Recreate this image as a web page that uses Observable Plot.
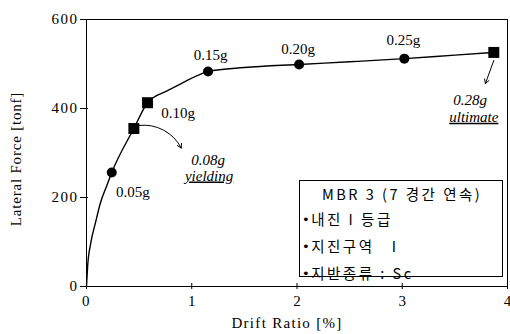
<!DOCTYPE html>
<html><head><meta charset="utf-8">
<script src="https://cdn.jsdelivr.net/npm/d3@7"></script>
<script src="https://cdn.jsdelivr.net/npm/@observablehq/plot@0.6"></script>
<style>
body{margin:0;background:#fff;}
#wrap{position:relative;width:510px;height:334px;}
#legend{position:absolute;left:299px;top:180px;width:204px;height:97px;border:1px solid #000;background:#fff;box-sizing:border-box;
font-family:"Noto Sans CJK KR",sans-serif;font-size:14.5px;line-height:25px;color:#000;padding-top:0px;letter-spacing:2.5px;}
#legend div{white-space:pre;padding-left:2px;}
#legend div:first-child{padding-left:22px;}
#legend .b{font-family:"DejaVu Sans",sans-serif;font-size:13px;letter-spacing:1.5px;position:relative;top:-1px;}
</style>
</head><body><div id="wrap"></div>
<script>
// capacity curve (drift ratio %, lateral force tonf)
const curveDrift = [0, 0.01, 0.04, 0.086, 0.13, 0.2, 0.24, 0.45, 0.58, 0.77, 0.9, 1.155, 1.5, 2.02, 2.5, 3.02, 3.5, 3.87];
const curveForce = [0, 43, 97, 144, 186, 231, 256, 355, 413, 440, 456, 483, 492, 499, 505, 512, 520, 526];
// marked PGA points
const ptLabels = ["0.05g", "0.08g", "0.10g", "0.15g", "0.20g", "0.25g", "0.28g"];
const ptDrift  = [0.24, 0.45, 0.58, 1.155, 2.02, 3.02, 3.87];
const ptForce  = [256, 355, 413, 483, 499, 512, 526];
const ptShape  = ["circle", "square", "square", "circle", "circle", "circle", "square"];
// label positions (left edge)
const lblText  = ["0.05g", "0.10g", "0.15g", "0.20g", "0.25g"];
const lblX     = [0.28, 0.71, 1.02, 1.85, 2.85];
const lblY     = [213, 389, 519, 533, 553];
const italText = ["0.08g", "0.28g"];
const italX    = [1.155, 3.645];
const italY    = [283, 418];
const underText= ["yielding", "ultimate"];
const underX   = [1.165, 3.68];
const underY   = [249, 381];
const xTicks = [0, 1, 2, 3, 4];
const yTicks = [0, 200, 400, 600];
const legendTitle = "MBR 3 (7 경간 연속)";
const legendItems = ["내진 I 등급", "지진구역   I", "지반종류 : Sc"];

const curve = curveDrift.map((d, i) => ({x: d, y: curveForce[i]}));
const pts = ptDrift.map((d, i) => ({x: d, y: ptForce[i], s: ptShape[i], l: ptLabels[i]}));
const lbls = lblText.map((t, i) => ({t, x: lblX[i], y: lblY[i]}));
const ital = italText.map((t, i) => ({t, x: italX[i], y: italY[i]}));
const under = underText.map((t, i) => ({t, x: underX[i], y: underY[i]}));
const arrowYield = [{x1: 0.50, y1: 362, x2: 0.90, y2: 311}];
const arrowUlt = [{x1: 3.87, y1: 508, x2: 3.79, y2: 456}];

const chart = Plot.plot({
  width: 510, height: 334,
  marginLeft: 86, marginRight: 3, marginTop: 19, marginBottom: 48,
  style: {fontFamily: "'Liberation Serif', serif", fontSize: "14px", color: "#000", background: "#fff"},
  x: {domain: [0, 4]},
  y: {domain: [0, 600]},
  marks: [
    Plot.frame({stroke: "#000", strokeWidth: 1}),
    Plot.axisX({ticks: xTicks, tickSize: 3, tickPadding: 6, tickFormat: d => d, fontSize: 15, label: null}),
    Plot.axisX({ticks: xTicks, tickSize: 3, dy: -3, tickFormat: () => "", label: null}),
    Plot.axisY({ticks: yTicks, tickSize: 6, tickPadding: 2, tickFormat: d => d, fontSize: 15, label: null}),
    Plot.axisY({ticks: yTicks, tickSize: 2, dx: 2, tickFormat: () => "", label: null}),
    Plot.text(["Drift Ratio [%]"], {frameAnchor: "bottom", dy: 41, dx: -10, text: d => d, fontSize: 15}),
    Plot.text(["Lateral Force [tonf]"], {frameAnchor: "left", textAnchor: "middle", dx: -70, dy: 6, rotate: -90, text: d => d, fontSize: 15}),
    Plot.line(curve, {x: "x", y: "y", curve: "monotone-x", stroke: "#000", strokeWidth: 1.4}),
    Plot.dot(pts.filter(d => d.s === "circle"), {x: "x", y: "y", r: 5, fill: "#000", stroke: "none"}),
    Plot.dot(pts.filter(d => d.s === "square"), {x: "x", y: "y", symbol: "square", r: 6.2, fill: "#000", stroke: "none"}),
    Plot.text(lbls, {x: "x", y: "y", text: "t", textAnchor: "start", fontSize: 15}),
    Plot.text(ital, {x: "x", y: "y", text: "t", fontSize: 15, fontStyle: "italic"}),
    Plot.text(under, {x: "x", y: "y", text: "t", fontSize: 15, fontStyle: "italic"}),
    Plot.arrow(arrowYield, {x1: "x1", y1: "y1", x2: "x2", y2: "y2", bend: 35, stroke: "#000", strokeWidth: 1, headLength: 7}),
    Plot.arrow(arrowUlt, {x1: "x1", y1: "y1", x2: "x2", y2: "y2", stroke: "#000", strokeWidth: 1, headLength: 7})
  ]
});
chart.querySelectorAll("text").forEach(t => {
  const s = t.textContent;
  if (s === "yielding" || s === "ultimate") t.style.textDecoration = "underline";
  if (s === "Drift Ratio [%]") t.style.letterSpacing = "1.3px";
  if (s === "Lateral Force [tonf]") t.style.letterSpacing = "0.8px";
  if (["0", "200", "400", "600"].includes(s)) t.style.letterSpacing = "1.5px";
});
document.getElementById("wrap").appendChild(chart);
const lg = document.createElement("div");
lg.id = "legend";
const title = document.createElement("div"); title.textContent = legendTitle; lg.appendChild(title);
legendItems.forEach(s => {
  const d = document.createElement("div");
  const b = document.createElement("span"); b.className = "b"; b.textContent = "•";
  d.appendChild(b); d.appendChild(document.createTextNode(s)); lg.appendChild(d);
});
document.getElementById("wrap").appendChild(lg);
</script></body></html>
